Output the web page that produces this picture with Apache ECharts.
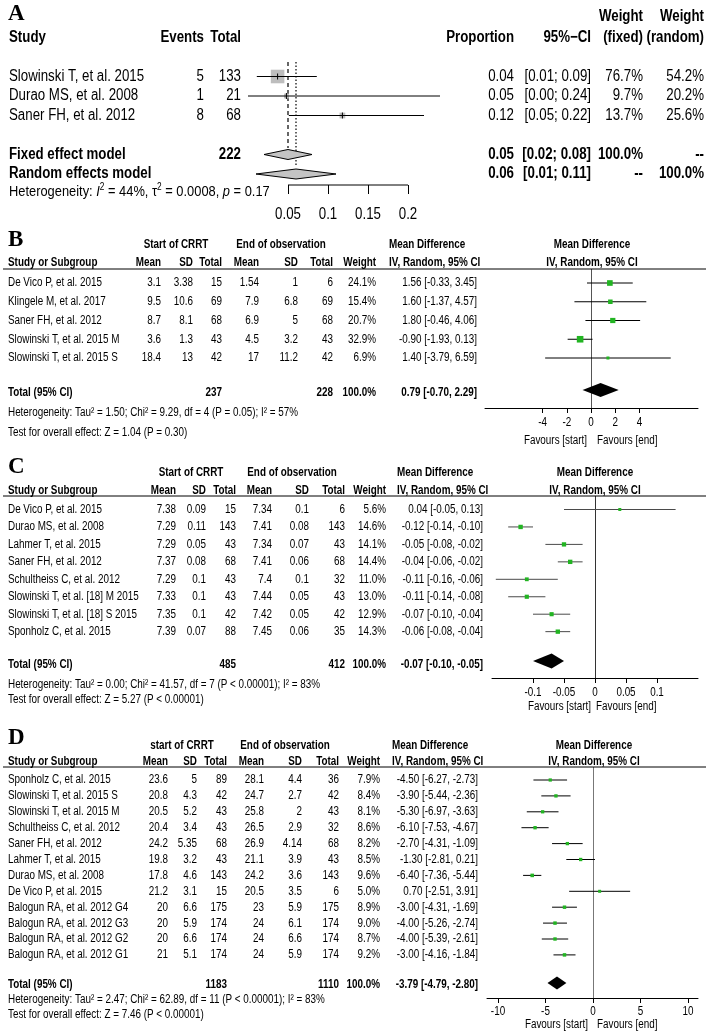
<!DOCTYPE html>
<html><head><meta charset="utf-8">
<script src="https://cdn.jsdelivr.net/npm/echarts@6/dist/echarts.min.js"></script>
<style>html,body{margin:0;padding:0;background:#fff}#c{width:709px;height:1033px}</style>
</head><body><div id="c"></div>
<script>
// ---------------- DATA ----------------
// Panel A
const A_studies = ['Slowinski T, et al. 2015', 'Durao MS, et al. 2008', 'Saner FH, et al. 2012'];
const A_events = [5, 1, 8];
const A_total = [133, 21, 68];
const A_prop = [0.037, 0.048, 0.118];
const A_lo = [0.011, 0.0, 0.051];
const A_hi = [0.086, 0.24, 0.22];
const A_wFixed = [76.7, 9.7, 13.7];
const A_wRandom = [54.2, 20.2, 25.6];
const A_models = ['Fixed effect model', 'Random effects model'];
const A_modelEst = [0.05, 0.06];
const A_modelLo = [0.02, 0.01];
const A_modelHi = [0.08, 0.11];
const A_modelWF = ['100.0%', '--'];
const A_modelWR = ['--', '100.0%'];
const A_sumN = 222;
const A_ticks = [0.05, 0.1, 0.15, 0.2];

// Panel B
const B_studies = ['De Vico P, et al. 2015', 'Klingele M, et al. 2017', 'Saner FH, et al. 2012', 'Slowinski T, et al. 2015 M', 'Slowinski T, et al. 2015 S'];
const B_m1 = [3.1, 9.5, 8.7, 3.6, 18.4];
const B_sd1 = [3.38, 10.6, 8.1, 1.3, 13];
const B_n1 = [15, 69, 68, 43, 42];
const B_m2 = [1.54, 7.9, 6.9, 4.5, 17];
const B_sd2 = [1, 6.8, 5, 3.2, 11.2];
const B_n2 = [6, 69, 68, 43, 42];
const B_w = [24.1, 15.4, 20.7, 32.9, 6.9];
const B_md = [1.56, 1.60, 1.80, -0.90, 1.40];
const B_lo = [-0.33, -1.37, -0.46, -1.93, -3.79];
const B_hi = [3.45, 4.57, 4.06, 0.13, 6.59];
const B_totN = [237, 228];
const B_pooled = [0.79, -0.70, 2.29];
const B_ticks = [-4, -2, 0, 2, 4];
const B_het = 'Heterogeneity: Tau² = 1.50; Chi² = 9.29, df = 4 (P = 0.05); I² = 57%';
const B_test = 'Test for overall effect: Z = 1.04 (P = 0.30)';

// Panel C
const C_studies = ['De Vico P, et al. 2015', 'Durao MS, et al. 2008', 'Lahmer T, et al. 2015', 'Saner FH, et al. 2012', 'Schultheiss C, et al. 2012', 'Slowinski T, et al. [18] M 2015', 'Slowinski T, et al. [18] S 2015', 'Sponholz C, et al. 2015'];
const C_m1 = [7.38, 7.29, 7.29, 7.37, 7.29, 7.33, 7.35, 7.39];
const C_sd1 = [0.09, 0.11, 0.05, 0.08, 0.1, 0.1, 0.1, 0.07];
const C_n1 = [15, 143, 43, 68, 43, 43, 42, 88];
const C_m2 = [7.34, 7.41, 7.34, 7.41, 7.4, 7.44, 7.42, 7.45];
const C_sd2 = [0.1, 0.08, 0.07, 0.06, 0.1, 0.05, 0.05, 0.06];
const C_n2 = [6, 143, 43, 68, 32, 43, 42, 35];
const C_w = [5.6, 14.6, 14.1, 14.4, 11.0, 13.0, 12.9, 14.3];
const C_md = [0.04, -0.12, -0.05, -0.04, -0.11, -0.11, -0.07, -0.06];
const C_lo = [-0.05, -0.14, -0.08, -0.06, -0.16, -0.14, -0.10, -0.08];
const C_hi = [0.13, -0.10, -0.02, -0.02, -0.06, -0.08, -0.04, -0.04];
const C_totN = [485, 412];
const C_pooled = [-0.07, -0.10, -0.05];
const C_ticks = [-0.1, -0.05, 0, 0.05, 0.1];
const C_het = 'Heterogeneity: Tau² = 0.00; Chi² = 41.57, df = 7 (P < 0.00001); I² = 83%';
const C_test = 'Test for overall effect: Z = 5.27 (P < 0.00001)';

// Panel D
const D_studies = ['Sponholz C, et al. 2015', 'Slowinski T, et al. 2015 S', 'Slowinski T, et al. 2015 M', 'Schultheiss C, et al. 2012', 'Saner FH, et al. 2012', 'Lahmer T, et al. 2015', 'Durao MS, et al. 2008', 'De Vico P, et al. 2015', 'Balogun RA, et al. 2012 G4', 'Balogun RA, et al. 2012 G3', 'Balogun RA, et al. 2012 G2', 'Balogun RA, et al. 2012 G1'];
const D_m1 = [23.6, 20.8, 20.5, 20.4, 24.2, 19.8, 17.8, 21.2, 20, 20, 20, 21];
const D_sd1 = [5, 4.3, 5.2, 3.4, 5.35, 3.2, 4.6, 3.1, 6.6, 5.9, 6.6, 5.1];
const D_n1 = [89, 42, 43, 43, 68, 43, 143, 15, 175, 174, 174, 174];
const D_m2 = [28.1, 24.7, 25.8, 26.5, 26.9, 21.1, 24.2, 20.5, 23, 24, 24, 24];
const D_sd2 = [4.4, 2.7, 2, 2.9, 4.14, 3.9, 3.6, 3.5, 5.9, 6.1, 6.6, 5.9];
const D_n2 = [36, 42, 43, 32, 68, 43, 143, 6, 175, 174, 174, 174];
const D_w = [7.9, 8.4, 8.1, 8.6, 8.2, 8.5, 9.6, 5.0, 8.9, 9.0, 8.7, 9.2];
const D_md = [-4.50, -3.90, -5.30, -6.10, -2.70, -1.30, -6.40, 0.70, -3.00, -4.00, -4.00, -3.00];
const D_lo = [-6.27, -5.44, -6.97, -7.53, -4.31, -2.81, -7.36, -2.51, -4.31, -5.26, -5.39, -4.16];
const D_hi = [-2.73, -2.36, -3.63, -4.67, -1.09, 0.21, -5.44, 3.91, -1.69, -2.74, -2.61, -1.84];
const D_totN = [1183, 1110];
const D_pooled = [-3.79, -4.79, -2.80];
const D_ticks = [-10, -5, 0, 5, 10];
const D_het = 'Heterogeneity: Tau² = 2.47; Chi² = 62.89, df = 11 (P < 0.00001); I² = 83%';
const D_test = 'Test for overall effect: Z = 7.46 (P < 0.00001)';

// ---------------- LAYOUT ----------------
const FONT = '"Liberation Sans", Arial, Helvetica, sans-serif';
const SERIF = '"Liberation Serif", "Times New Roman", serif';
const GREEN = '#22b422';

const LA = {row0: 76.5, pitch: 19.5, top: 57, axis: 185, left: 248, right: 456, zeroPx: 248, ppu: 800,
  yH1: 17, yH2: 38, yModel: [154.5, 174], yHet: 192, yLetter: 14, dashTop: 62, dashEnd: [148, 167],
  labOff: 30, labFs: 16, labSx: 0.83,
  c: {name: 9, ev: 204, tot: 241, prop: 514, ci: 591, wf: 643, wr: 704}};
const LB = {row0: 283, pitch: 18.75, yTot: 393, yDia: 390, yH1: 245, yH2: 263, top: 269, axis: 408, yHet: 413, yTest: 433,
  yFav: 441, yLetter: 240, zeroPx: 591, ppu: 12.1, left: 485, right: 698, favL: 587, favR: 597, startC: 176, endC: 281,
  mdL: 389, plotC: 592, dia: 7, line: '#000', zero: '#555', startLabel: 'Start of CRRT', labOff: 15, labFs: 12.5, labSx: 0.79,
  c: {m1: 161, sd1: 193, n1: 222, m2: 259, sd2: 298, n2: 333, w: 376, ci: 477}};
const LC = {row0: 509.5, pitch: 17.45, yTot: 665, yDia: 661, yH1: 473, yH2: 491, top: 496, axis: 678, yHet: 685, yTest: 700,
  yFav: 707, yLetter: 467, zeroPx: 595, ppu: 620, left: 492, right: 698, favL: 591, favR: 596, startC: 191, endC: 292,
  mdL: 397, plotC: 595, dia: 7.5, line: '#4a4a4a', zero: '#333', startLabel: 'Start of CRRT', labOff: 15, labFs: 12.5, labSx: 0.79,
  c: {m1: 176, sd1: 206, n1: 236, m2: 272, sd2: 309, n2: 345, w: 386, ci: 483}};
const LD = {row0: 780, pitch: 15.9, yTot: 985, yDia: 983, yH1: 746, yH2: 762, top: 767, axis: 998, yHet: 1000, yTest: 1015,
  yFav: 1025, yLetter: 738, zeroPx: 593, ppu: 9.5, left: 487, right: 698, favL: 588, favR: 597, startC: 182, endC: 285,
  mdL: 392, plotC: 594, dia: 6.5, line: '#000', zero: '#777', startLabel: 'start of CRRT', labOff: 14, labFs: 12.5, labSx: 0.79,
  c: {m1: 168, sd1: 197, n1: 227, m2: 264, sd2: 302, n2: 339, w: 380, ci: 478}};

const rowOf = (L, y) => (y - L.row0) / L.pitch;

// ---------------- TEXT (graphic) ----------------
const G = [];
function T(x, y, s, o) {
  o = o || {};
  const al = o.al || 'left';
  const st = {text: s, align: al, textAlign: al, verticalAlign: 'middle', textVerticalAlign: 'middle',
    fontSize: o.fs || 12.5, fontWeight: o.b ? 'bold' : 'normal', fontFamily: o.ff || FONT, fill: '#000'};
  if (o.rich) st.rich = o.rich;
  G.push({type: 'text', x: x, y: y, scaleX: o.sx || 0.79, silent: true, z: 100, style: st});
}
function HL(x1, x2, y) {
  G.push({type: 'line', silent: true, z: 90, shape: {x1: x1, y1: y, x2: x2, y2: y}, style: {stroke: '#000', lineWidth: 1}});
}
const LET = {fs: 23, b: 1, ff: SERIF, sx: 1};

// Panel A text
(function () {
  const S = {fs: 16, sx: 0.83}, SB = {fs: 16, sx: 0.83, b: 1}, c = LA.c;
  T(8, LA.yLetter, 'A', LET);
  T(c.name, LA.yH2, 'Study', SB);
  T(c.ev, LA.yH2, 'Events', Object.assign({al: 'right'}, SB));
  T(c.tot, LA.yH2, 'Total', Object.assign({al: 'right'}, SB));
  T(c.prop, LA.yH2, 'Proportion', Object.assign({al: 'right'}, SB));
  T(c.ci, LA.yH2, '95%\u2212CI', Object.assign({al: 'right'}, SB));
  T(c.wf, LA.yH1, 'Weight', Object.assign({al: 'right'}, SB));
  T(c.wf, LA.yH2, '(fixed)', Object.assign({al: 'right'}, SB));
  T(c.wr, LA.yH1, 'Weight', Object.assign({al: 'right'}, SB));
  T(c.wr, LA.yH2, '(random)', Object.assign({al: 'right'}, SB));
  A_studies.forEach(function (s, i) {
    const y = LA.row0 + i * LA.pitch;
    T(c.name, y, s, S);
    T(c.ev, y, String(A_events[i]), Object.assign({al: 'right'}, S));
    T(c.tot, y, String(A_total[i]), Object.assign({al: 'right'}, S));
    T(c.prop, y, A_prop[i].toFixed(2), Object.assign({al: 'right'}, S));
    T(c.ci, y, '[' + A_lo[i].toFixed(2) + '; ' + A_hi[i].toFixed(2) + ']', Object.assign({al: 'right'}, S));
    T(c.wf, y, A_wFixed[i].toFixed(1) + '%', Object.assign({al: 'right'}, S));
    T(c.wr, y, A_wRandom[i].toFixed(1) + '%', Object.assign({al: 'right'}, S));
  });
  A_models.forEach(function (s, i) {
    const y = LA.yModel[i];
    T(c.name, y, s, SB);
    if (i === 0) T(c.tot, y, String(A_sumN), Object.assign({al: 'right'}, SB));
    T(c.prop, y, A_modelEst[i].toFixed(2), Object.assign({al: 'right'}, SB));
    T(c.ci, y, '[' + A_modelLo[i].toFixed(2) + '; ' + A_modelHi[i].toFixed(2) + ']', Object.assign({al: 'right'}, SB));
    T(c.wf, y, A_modelWF[i], Object.assign({al: 'right'}, SB));
    T(c.wr, y, A_modelWR[i], Object.assign({al: 'right'}, SB));
  });
  T(c.name, LA.yHet, '{n|Heterogeneity: }{i|I}{s|2}{n| = 44%, \u03c4}{s|2}{n| = 0.0008, }{i|p}{n| = 0.17}', {
    fs: 15.5, sx: 0.83,
    rich: {n: {fontSize: 15.5, fontFamily: FONT, lineHeight: 20}, i: {fontSize: 15.5, fontFamily: FONT, fontStyle: 'italic', lineHeight: 20},
      s: {fontSize: 10, fontFamily: FONT, verticalAlign: 'top', lineHeight: 12}}
  });
})();

function panelText(L, letter, studies, m1, sd1, n1, m2, sd2, n2, w, md, lo, hi, totN, pooled, het, test) {
  const c = L.c, R = {al: 'right'}, RB = {al: 'right', b: 1}, B = {b: 1};
  T(8, L.yLetter, letter, LET);
  T(L.startC, L.yH1, L.startLabel, {al: 'center', b: 1});
  T(L.endC, L.yH1, 'End of observation', {al: 'center', b: 1});
  T(L.mdL, L.yH1, 'Mean Difference', B);
  T(L.plotC, L.yH1, 'Mean Difference', {al: 'center', b: 1});
  T(8, L.yH2, 'Study or Subgroup', B);
  T(c.m1, L.yH2, 'Mean', RB); T(c.sd1, L.yH2, 'SD', RB); T(c.n1, L.yH2, 'Total', RB);
  T(c.m2, L.yH2, 'Mean', RB); T(c.sd2, L.yH2, 'SD', RB); T(c.n2, L.yH2, 'Total', RB);
  T(c.w, L.yH2, 'Weight', RB);
  T(L.mdL, L.yH2, 'IV, Random, 95% CI', B);
  T(L.plotC, L.yH2, 'IV, Random, 95% CI', {al: 'center', b: 1});
  HL(3, 706, L.top);
  studies.forEach(function (s, i) {
    const y = L.row0 + i * L.pitch;
    T(8, y, s);
    T(c.m1, y, String(m1[i]), R); T(c.sd1, y, String(sd1[i]), R); T(c.n1, y, String(n1[i]), R);
    T(c.m2, y, String(m2[i]), R); T(c.sd2, y, String(sd2[i]), R); T(c.n2, y, String(n2[i]), R);
    T(c.w, y, w[i].toFixed(1) + '%', R);
    T(c.ci, y, md[i].toFixed(2) + ' [' + lo[i].toFixed(2) + ', ' + hi[i].toFixed(2) + ']', R);
  });
  T(8, L.yTot, 'Total (95% CI)', B);
  T(c.n1, L.yTot, String(totN[0]), RB);
  T(c.n2, L.yTot, String(totN[1]), RB);
  T(c.w, L.yTot, '100.0%', RB);
  T(c.ci, L.yTot, pooled[0].toFixed(2) + ' [' + pooled[1].toFixed(2) + ', ' + pooled[2].toFixed(2) + ']', RB);
  T(8, L.yHet, het);
  T(8, L.yTest, test);
  T(L.favL, L.yFav, 'Favours [start]', R);
  T(L.favR, L.yFav, 'Favours [end]');
}
panelText(LB, 'B', B_studies, B_m1, B_sd1, B_n1, B_m2, B_sd2, B_n2, B_w, B_md, B_lo, B_hi, B_totN, B_pooled, B_het, B_test);
panelText(LC, 'C', C_studies, C_m1, C_sd1, C_n1, C_m2, C_sd2, C_n2, C_w, C_md, C_lo, C_hi, C_totN, C_pooled, C_het, C_test);
panelText(LD, 'D', D_studies, D_m1, D_sd1, D_n1, D_m2, D_sd2, D_n2, D_w, D_md, D_lo, D_hi, D_totN, D_pooled, D_het, D_test);

// ---------------- CHART ----------------
const LAYOUTS = [LA, LB, LC, LD];
const grids = LAYOUTS.map(L => ({left: L.left, top: L.top, width: L.right - L.left, height: L.axis - L.top}));
const yAxes = LAYOUTS.map((L, i) => ({type: 'value', gridIndex: i, inverse: true, show: false,
  min: rowOf(L, L.top), max: rowOf(L, L.axis), splitLine: {show: false}}));
const TICKS = [A_ticks, B_ticks, C_ticks, D_ticks];
const xAxes = LAYOUTS.map((L, i) => ({
  type: 'value', gridIndex: i,
  min: (L.left - L.zeroPx) / L.ppu, max: (L.right - L.zeroPx) / L.ppu,
  axisLine: {show: i !== 0, onZero: false, lineStyle: {color: '#000', width: 1}},
  axisTick: {show: true, customValues: TICKS[i], length: i === 0 ? 9 : 5, lineStyle: {color: '#000', width: 1}},
  axisLabel: {show: false},
  splitLine: {show: false}
}));

// tick labels placed through the axis scale (narrow text)
function tickLabelSeries(ai, L, ticks) {
  return {
    type: 'custom', xAxisIndex: ai, yAxisIndex: ai, clip: false, silent: true, z: 7,
    data: ticks.map(t => [t, rowOf(L, L.axis)]),
    renderItem: function (p, api) {
      const pt = api.coord([api.value(0), api.value(1)]);
      return {type: 'text', x: pt[0], y: pt[1] + L.labOff, scaleX: L.labSx,
        style: {text: String(ticks[p.dataIndex]), align: 'center', verticalAlign: 'middle',
          fontSize: L.labFs, fontFamily: FONT, fill: '#000'}};
    }
  };
}

function studySeries(ai, L, est, lo, hi, w, kind) {
  return {
    type: 'custom', xAxisIndex: ai, yAxisIndex: ai, clip: false, silent: true, z: 5,
    data: est.map((e, i) => [e, lo[i], hi[i], i, w[i]]),
    renderItem: function (p, api) {
      const r = api.value(3);
      const pL = api.coord([api.value(1), r]), pH = api.coord([api.value(2), r]), pM = api.coord([api.value(0), r]);
      const ch = [];
      if (kind === 'A') {
        const s = 1.55 * Math.sqrt(api.value(4));
        ch.push({type: 'rect', shape: {x: pM[0] - s / 2, y: pM[1] - s / 2, width: s, height: s}, style: {fill: '#bdbdbd'}});
        ch.push({type: 'line', shape: {x1: pL[0], y1: pL[1], x2: pH[0], y2: pH[1]}, style: {stroke: '#000', lineWidth: 1}});
        ch.push({type: 'line', shape: {x1: pM[0], y1: pM[1] - 3, x2: pM[0], y2: pM[1] + 3}, style: {stroke: '#000', lineWidth: 1}});
      } else {
        const s = Math.max(3, 1.15 * Math.sqrt(api.value(4)));
        ch.push({type: 'line', shape: {x1: pL[0], y1: pL[1], x2: pH[0], y2: pH[1]}, style: {stroke: L.line, lineWidth: 1}});
        ch.push({type: 'rect', shape: {x: pM[0] - s / 2, y: pM[1] - s / 2, width: s, height: s}, style: {fill: GREEN}});
      }
      return {type: 'group', children: ch};
    }
  };
}
function diamondSeries(ai, L, est, lo, hi, rows, hh, fill, zeroLine) {
  const s = {
    type: 'custom', xAxisIndex: ai, yAxisIndex: ai, clip: false, silent: true, z: 6,
    data: est.map((e, i) => [e, lo[i], hi[i], rows[i]]),
    renderItem: function (p, api) {
      const r = api.value(3);
      const pL = api.coord([api.value(1), r]), pH = api.coord([api.value(2), r]), pM = api.coord([api.value(0), r]);
      return {type: 'polygon', shape: {points: [[pL[0], pL[1]], [pM[0], pM[1] - hh], [pH[0], pH[1]], [pM[0], pM[1] + hh]]},
        style: {fill: fill, stroke: '#000', lineWidth: fill === '#000' ? 0 : 1}};
    }
  };
  if (zeroLine) {
    s.markLine = {silent: true, symbol: ['none', 'none'], label: {show: false}, animation: false,
      lineStyle: {color: L.zero, width: 1, type: 'solid'}, data: [{xAxis: 0}]};
  }
  return s;
}
// Panel A reference lines and axis segment
const A_refSeries = {
  type: 'custom', xAxisIndex: 0, yAxisIndex: 0, clip: false, silent: true, z: 4,
  data: A_modelEst.map((e, i) => [e, rowOf(LA, LA.dashTop), rowOf(LA, LA.dashEnd[i]), i]),
  renderItem: function (p, api) {
    const a = api.coord([api.value(0), api.value(1)]), b = api.coord([api.value(0), api.value(2)]);
    const dash = api.value(3) === 0 ? [4, 3] : [1.5, 2];
    return {type: 'line', shape: {x1: a[0], y1: a[1], x2: b[0], y2: b[1]}, style: {stroke: '#000', lineWidth: 1.2, lineDash: dash}};
  }
};
const A_axisSeries = {
  type: 'custom', xAxisIndex: 0, yAxisIndex: 0, clip: false, silent: true, z: 4,
  data: [[A_ticks[0], A_ticks[A_ticks.length - 1], rowOf(LA, LA.axis)]],
  renderItem: function (p, api) {
    const a = api.coord([api.value(0), api.value(2)]), b = api.coord([api.value(1), api.value(2)]);
    return {type: 'line', shape: {x1: a[0], y1: a[1], x2: b[0], y2: b[1]}, style: {stroke: '#000', lineWidth: 1}};
  }
};

const series = [
  A_refSeries, A_axisSeries,
  studySeries(0, LA, A_prop, A_lo, A_hi, A_wFixed, 'A'),
  diamondSeries(0, LA, A_modelEst, A_modelLo, A_modelHi, LA.yModel.map(y => rowOf(LA, y)), 5, '#c4c4c4', false),
  studySeries(1, LB, B_md, B_lo, B_hi, B_w, 'B'),
  diamondSeries(1, LB, [B_pooled[0]], [B_pooled[1]], [B_pooled[2]], [rowOf(LB, LB.yDia)], LB.dia, '#000', true),
  studySeries(2, LC, C_md, C_lo, C_hi, C_w, 'C'),
  diamondSeries(2, LC, [C_pooled[0]], [C_pooled[1]], [C_pooled[2]], [rowOf(LC, LC.yDia)], LC.dia, '#000', true),
  studySeries(3, LD, D_md, D_lo, D_hi, D_w, 'D'),
  diamondSeries(3, LD, [D_pooled[0]], [D_pooled[1]], [D_pooled[2]], [rowOf(LD, LD.yDia)], LD.dia, '#000', true)
].concat(LAYOUTS.map((L, i) => tickLabelSeries(i, L, TICKS[i])));

const chart = echarts.init(document.getElementById('c'), null, {renderer: 'canvas', width: 709, height: 1033});
chart.setOption({
  animation: false,
  backgroundColor: '#fff',
  grid: grids,
  xAxis: xAxes,
  yAxis: yAxes,
  series: series,
  graphic: {elements: G}
});
</script></body></html>
